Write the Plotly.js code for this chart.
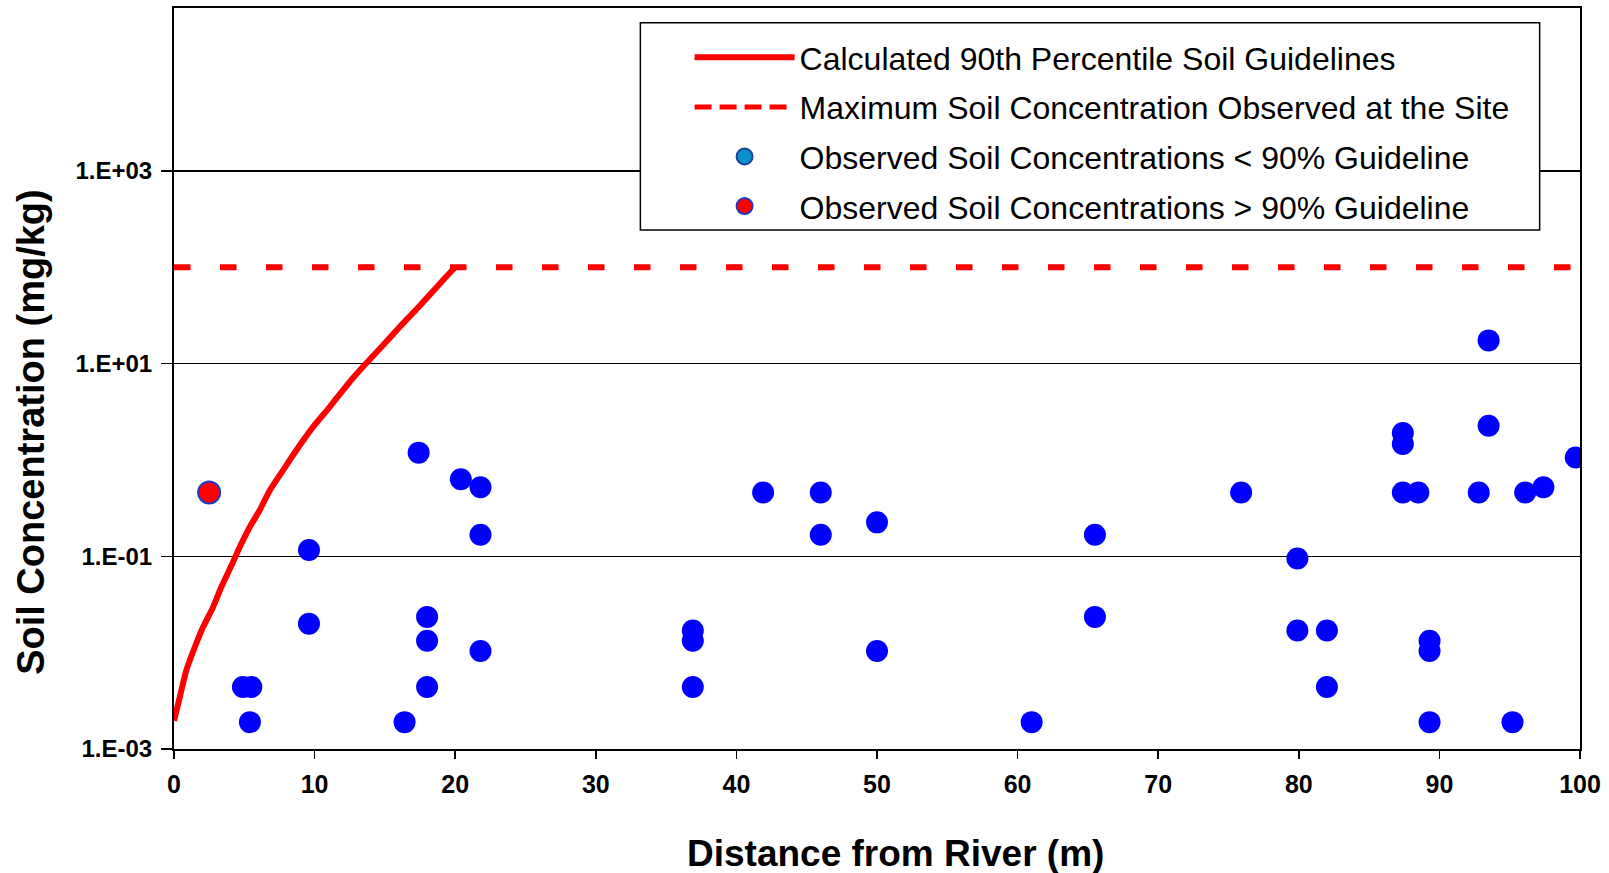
<!DOCTYPE html>
<html>
<head>
<meta charset="utf-8">
<script src="https://cdn.plot.ly/plotly-3.0.1.min.js"></script>
<style>html,body{margin:0;padding:0;background:#fff;}#chart{width:1609px;height:873px;}</style>
</head>
<body>
<div id="chart"></div>
<script>
// Calculated 90th percentile soil guideline curve (distance m, concentration mg/kg)
const guideX = [0, 0.4, 0.87, 1.47, 2.06, 2.77, 3.36, 4.08, 4.67, 5.38, 6.09, 6.8, 7.75, 8.7, 9.88, 11.07, 12.49, 13.65, 14.8, 16.05, 17.2, 18.5, 19.3, 20.0];
const guideY = [0.00196, 0.0034, 0.0065, 0.0113, 0.0183, 0.0295, 0.0477, 0.080, 0.124, 0.20, 0.30, 0.48, 0.78, 1.26, 2.19, 3.54, 6.44, 10.0, 15.1, 24.0, 36, 58, 78, 100];

// Maximum soil concentration observed at the site
const maxX = [0, 100];
const maxY = [100, 100];

// Observed concentrations below the 90% guideline
const belowX = [4.9, 5.5, 5.4, 9.6, 9.6, 16.4, 17.4, 18.0, 18.0, 18.0, 20.4, 21.8, 21.8, 21.8, 36.9, 36.9, 36.9, 41.9, 46.0, 46.0, 50.0, 50.0, 61.0, 65.5, 65.5, 75.9, 79.9, 79.9, 82.0, 82.0, 87.4, 87.4, 87.4, 88.5, 89.3, 89.3, 89.3, 92.8, 93.5, 93.5, 95.2, 96.1, 97.4, 99.7];
const belowY = [0.0044, 0.0044, 0.0019, 0.116, 0.020, 0.0019, 1.19, 0.0235, 0.0133, 0.0044, 0.63, 0.52, 0.167, 0.0104, 0.017, 0.0133, 0.0044, 0.46, 0.46, 0.167, 0.225, 0.0104, 0.0019, 0.167, 0.0235, 0.46, 0.095, 0.017, 0.017, 0.0044, 1.9, 1.46, 0.46, 0.46, 0.0133, 0.0104, 0.0019, 0.46, 17.4, 2.26, 0.0019, 0.46, 0.52, 1.06];

// Observed concentrations above the 90% guideline
const aboveX = [2.5];
const aboveY = [0.46];

// Axis ticks
const xTicks = [0, 10, 20, 30, 40, 50, 60, 70, 80, 90, 100];
const yTickVals = [0.001, 0.1, 10, 1000];
const yTickText = ['1.E-03', '1.E-01', '1.E+01', '1.E+03'];

const FONT = 'Liberation Sans, Arial, Helvetica, sans-serif';

const traces = [
  {
    x: guideX, y: guideY, type: 'scatter', mode: 'lines',
    name: 'Calculated 90th Percentile Soil Guidelines',
    line: {color: '#FF0000', width: 6, shape: 'spline', smoothing: 0.6},
    legendgroup: 'g1', legendrank: 1
  },
  {
    x: maxX, y: maxY, type: 'scatter', mode: 'lines',
    name: 'Maximum Soil Concentration Observed at the Site',
    line: {color: '#FF0000', width: 6, dash: '16.5px,29.5px'},
    showlegend: false, legendgroup: 'g2'
  },
  {
    x: [null], y: [null], type: 'scatter', mode: 'lines',
    name: 'Maximum Soil Concentration Observed at the Site',
    line: {color: '#FF0000', width: 5, dash: '17px,8px'},
    legendgroup: 'g2', legendrank: 2, hoverinfo: 'skip'
  },
  {
    x: belowX, y: belowY, type: 'scatter', mode: 'markers',
    name: 'Observed Soil Concentrations < 90% Guideline',
    marker: {color: '#0000FF', size: 22, line: {width: 0}},
    showlegend: false, legendgroup: 'g3'
  },
  {
    x: [null], y: [null], type: 'scatter', mode: 'markers',
    name: 'Observed Soil Concentrations < 90% Guideline',
    marker: {color: '#0B90CC', size: 20, line: {color: '#1F3C99', width: 2}},
    legendgroup: 'g3', legendrank: 3, hoverinfo: 'skip'
  },
  {
    x: aboveX, y: aboveY, type: 'scatter', mode: 'markers',
    name: 'Observed Soil Concentrations > 90% Guideline',
    marker: {color: '#FF0000', size: 22, line: {color: '#1F3CC0', width: 2}},
    legendgroup: 'g4', legendrank: 4
  }
];

const layout = {
  width: 1609, height: 873,
  margin: {l: 174, r: 29, t: 8, b: 124},
  paper_bgcolor: '#FFFFFF', plot_bgcolor: '#FFFFFF',
  font: {family: FONT, color: '#000000'},
  showlegend: true,
  legend: {
    x: 0.3667, y: 0.9703, xanchor: 'left', yanchor: 'top',
    bgcolor: 'rgba(0,0,0,0)', borderwidth: 0,
    font: {family: FONT, size: 32, color: '#000000'},
    itemwidth: 100, tracegroupgap: 5, traceorder: 'grouped',
    itemclick: false, itemdoubleclick: false
  },
  xaxis: {
    range: [0, 100], tickmode: 'array', tickvals: xTicks,
    ticks: 'outside', ticklen: 8, tickwidth: 1.5, tickcolor: '#000',
    tickfont: {family: FONT, size: 25, weight: 700, color: '#000'},
    showline: true, linecolor: '#000', linewidth: 2, mirror: true,
    showgrid: false, zeroline: false, ticklabelstandoff: 4
  },
  yaxis: {
    type: 'log', range: [-3, 4.69], tickmode: 'array',
    tickvals: yTickVals, ticktext: yTickText,
    ticks: 'outside', ticklen: 11, tickwidth: 1.5, tickcolor: '#000',
    tickfont: {family: FONT, size: 24, weight: 700, color: '#000'},
    showline: true, linecolor: '#000', linewidth: 2, mirror: true,
    showgrid: true, gridcolor: '#000', gridwidth: 1.5, zeroline: false,
    ticklabelstandoff: 4
  },
  shapes: [
    {type: 'rect', xref: 'paper', yref: 'paper', x0: 0.3317, x1: 0.9713, y0: 0.7004, y1: 0.9802,
     line: {color: '#000', width: 1.5}, fillcolor: '#FFFFFF', layer: 'above'}
  ],
  annotations: [
    {text: 'Soil Concentration (mg/kg)', xref: 'paper', yref: 'paper', x: -0.1017, y: 0.428,
     xanchor: 'center', yanchor: 'middle', textangle: -90, showarrow: false,
     font: {family: FONT, size: 38, weight: 700, color: '#000'}},
    {text: 'Distance from River (m)', xref: 'paper', yref: 'paper', x: 0.5132, y: -0.1406,
     xanchor: 'center', yanchor: 'middle', showarrow: false,
     font: {family: FONT, size: 37, weight: 700, color: '#000'}}
  ]
};

Plotly.newPlot('chart', traces, layout, {displayModeBar: false, staticPlot: true});
</script>
</body>
</html>
